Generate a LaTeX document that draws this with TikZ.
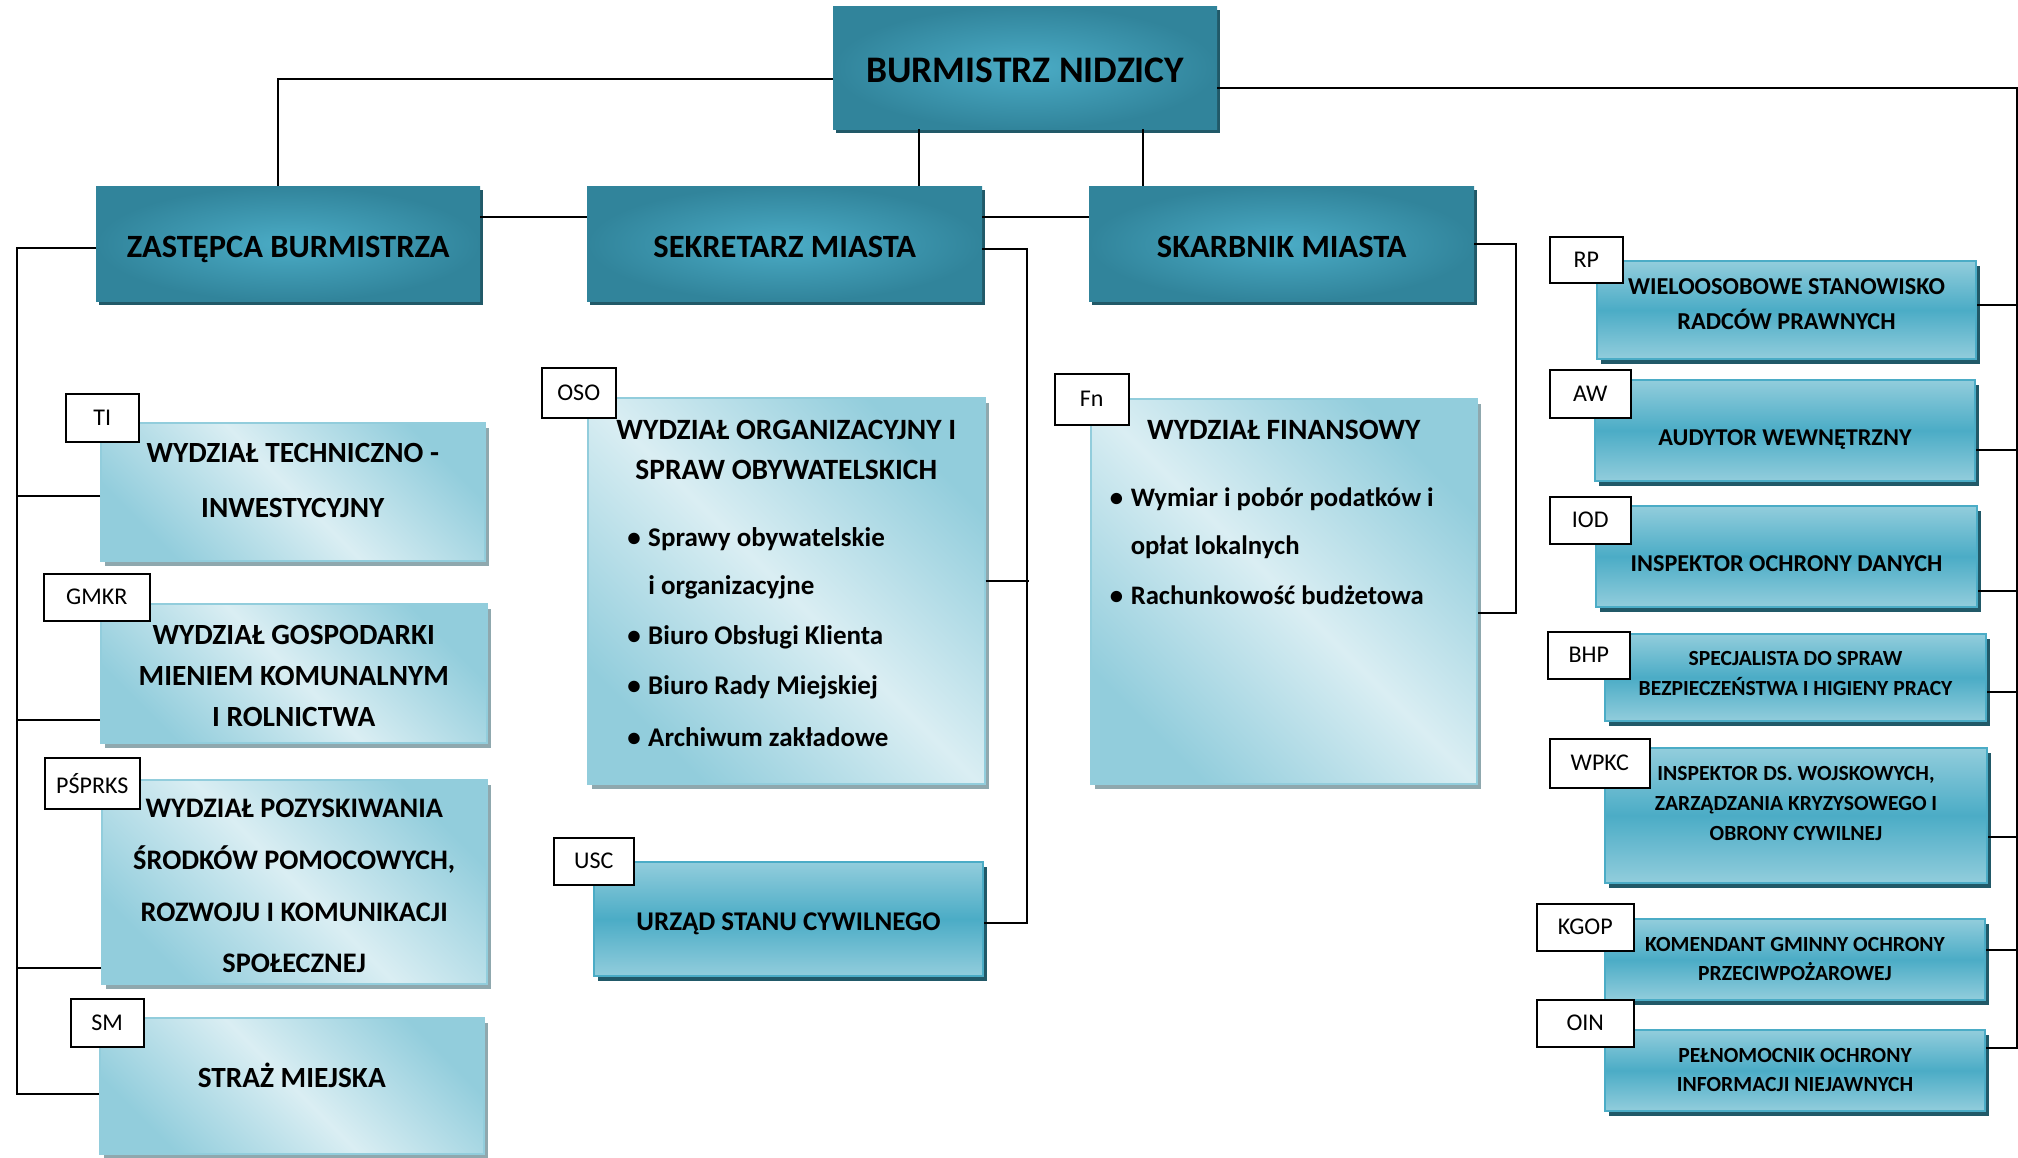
\documentclass[tikz,border=0pt]{standalone}
\usepackage{fontspec}
\setmainfont{Carlito}
\usetikzlibrary{shadows}

\definecolor{tealdark}{HTML}{31849B}
\definecolor{tealmid}{HTML}{4BACC6}
\definecolor{tealshadow}{HTML}{215968}
\definecolor{lightblue}{HTML}{92CDDC}
\definecolor{paleblue}{HTML}{DAEEF3}
\definecolor{grayshadow}{HTML}{8FA8AE}

% invisible struts: height of the first line, depth of the last line
\newcommand{\linetop}[1]{\rule{0pt}{#1}}
\newcommand{\linefoot}[1]{\rule[-#1]{0pt}{#1}}
% bullet of the lists
\newcommand{\listdot}{\makebox[17pt][l]{\hspace{-4pt}•}}

\tikzset{
  chief/.style={anchor=north west, inner color=tealmid, outer color=tealdark,
    drop shadow={shadow xshift=3pt,shadow yshift=-4pt,fill=tealshadow,opacity=1},
    font=\bfseries\fontsize{32.5}{37}\selectfont, align=center},
  dept/.style={anchor=north west, draw=lightblue, line width=1.5pt,
    left color=lightblue, right color=lightblue, middle color=paleblue, shading angle=135,
    drop shadow={shadow xshift=4pt,shadow yshift=-5pt,fill=grayshadow,opacity=1},
    font=\bfseries\fontsize{29.3}{41}\selectfont, align=center},
  post/.style={anchor=north west, draw=tealmid, line width=2pt,
    top color=lightblue, bottom color=lightblue, middle color=tealmid,
    drop shadow={shadow xshift=4pt,shadow yshift=-5pt,fill=tealshadow,opacity=1},
    font=\bfseries\fontsize{21.6}{29.6}\selectfont, align=center},
  tag/.style={anchor=north west, draw, fill=white, line width=1.5pt, inner sep=0pt,
    font=\fontsize{24}{28}\selectfont},
  link/.style={line width=2pt},
}

\begin{document}
\begin{tikzpicture}[x=1pt,y=-1pt]
\useasboundingbox (0,0) rectangle (2018,1157);

% top level
\node[chief, minimum width=384pt, minimum height=123pt, font=\bfseries\fontsize{37.5}{40}\selectfont] (boss) at (833,6) {\linetop{36pt}BURMISTRZ NIDZICY\linefoot{7pt}};
\node[chief, minimum width=384pt, minimum height=115pt] (zast) at (96,186) {\linetop{34pt}ZASTĘPCA BURMISTRZA\linefoot{7pt}};
\node[chief, minimum width=395pt, minimum height=115pt] (sek) at (587,186) {\linetop{34pt}SEKRETARZ MIASTA\linefoot{7pt}};
\node[chief, minimum width=385pt, minimum height=115pt] (skarb) at (1089,186) {\linetop{34pt}SKARBNIK MIASTA\linefoot{7pt}};

% departments under the deputy
\node[dept, minimum width=384pt, minimum height=138pt, font=\bfseries\fontsize{29.3}{55}\selectfont] (ti) at (100,422) {\linetop{30pt}WYDZIAŁ TECHNICZNO -\\INWESTYCYJNY\linefoot{33pt}};
\node[dept, minimum width=386pt, minimum height=139pt] (gmkr) at (100,603) {\linetop{30pt}WYDZIAŁ GOSPODARKI\\MIENIEM KOMUNALNYM\\I ROLNICTWA\linefoot{5pt}};
\node[dept, minimum width=385pt, minimum height=204pt, font=\bfseries\fontsize{28.3}{51.7}\selectfont] (psprks) at (101,779) {\linetop{33pt}WYDZIAŁ POZYSKIWANIA\\ŚRODKÓW POMOCOWYCH,\\ROZWOJU I KOMUNIKACJI\\SPOŁECZNEJ\linefoot{6pt}};
\node[dept, minimum width=384pt, minimum height=136pt] (sm) at (99,1017) {\linetop{30pt}STRAŻ MIEJSKA\linefoot{27pt}};

% secretary and treasurer
\node[dept, minimum width=397pt, minimum height=386pt] (oso) at (587,397) {};
\node[anchor=north, inner sep=0pt, align=center, font=\bfseries\fontsize{29.5}{40}\selectfont] (osotxt) at ([yshift=-22.5pt]oso.north)
  {WYDZIAŁ ORGANIZACYJNY I\\SPRAW OBYWATELSKICH\\[27pt]
   \makebox[310pt][l]{\fontsize{27}{40}\selectfont\listdot Sprawy obywatelskie}\\[8pt]
   \makebox[310pt][l]{\fontsize{27}{40}\selectfont\hspace{17pt}i organizacyjne}\\[10pt]
   \makebox[310pt][l]{\fontsize{27}{40}\selectfont\listdot Biuro Obsługi Klienta}\\[10pt]
   \makebox[310pt][l]{\fontsize{27}{40}\selectfont\listdot Biuro Rady Miejskiej}\\[12pt]
   \makebox[310pt][l]{\fontsize{27}{40}\selectfont\listdot Archiwum zakładowe}};
\node[post, minimum width=389pt, minimum height=114pt, font=\bfseries\fontsize{27}{35}\selectfont] (usc) at (593,861) {\linetop{30pt}URZĄD STANU CYWILNEGO\linefoot{8pt}};

\node[dept, minimum width=386pt, minimum height=385pt] (fn) at (1090,398) {};
\node[anchor=north, inner sep=0pt, align=center, font=\bfseries\fontsize{29.5}{48}\selectfont] (fntxt) at ([yshift=-21.5pt]fn.north)
  {WYDZIAŁ FINANSOWY\\[19pt]
   \makebox[340pt][l]{\fontsize{26.7}{48}\selectfont\listdot Wymiar i pobór podatków i}\\
   \makebox[340pt][l]{\fontsize{26.7}{48}\selectfont\hspace{17pt}opłat lokalnych}\\[2pt]
   \makebox[340pt][l]{\fontsize{26.7}{48}\selectfont\listdot Rachunkowość budżetowa}};

% posts reporting to the mayor
\node[post, minimum width=379pt, minimum height=98pt, font=\bfseries\fontsize{24.3}{35}\selectfont] (rp) at (1596,260) {\linetop{26pt}WIELOOSOBOWE STANOWISKO\\RADCÓW PRAWNYCH\linefoot{22pt}};
\node[post, minimum width=380pt, minimum height=101pt, font=\bfseries\fontsize{24.2}{35}\selectfont] (aw) at (1594,379) {\linetop{34pt}AUDYTOR WEWNĘTRZNY\linefoot{5pt}};
\node[post, minimum width=381pt, minimum height=101pt, font=\bfseries\fontsize{24.2}{35}\selectfont] (iod) at (1595,505) {\linetop{34pt}INSPEKTOR OCHRONY DANYCH\linefoot{5pt}};
\node[post, minimum width=381pt, minimum height=87pt] (bhp) at (1604,633) {\linetop{26pt}SPECJALISTA DO SPRAW\\BEZPIECZEŃSTWA I HIGIENY PRACY\linefoot{20pt}};
\node[post, minimum width=382pt, minimum height=135pt, font=\bfseries\fontsize{21.6}{30.3}\selectfont] (wpkc) at (1604,747) {\linetop{24pt}INSPEKTOR DS. WOJSKOWYCH,\\ZARZĄDZANIA KRYZYSOWEGO I\\OBRONY CYWILNEJ\linefoot{34pt}};
\node[post, minimum width=380pt, minimum height=81pt] (kgop) at (1604,918) {\linetop{26pt}KOMENDANT GMINNY OCHRONY\\PRZECIWPOŻAROWEJ\linefoot{13pt}};
\node[post, minimum width=380pt, minimum height=81pt] (oin) at (1604,1029) {\linetop{26pt}PEŁNOMOCNIK OCHRONY\\INFORMACJI NIEJAWNYCH\linefoot{13pt}};

% short names
\node[tag, minimum width=73pt, minimum height=48pt] (tagti) at (65,393) {TI};
\node[tag, minimum width=106pt, minimum height=47pt] (taggmkr) at (43,573) {GMKR};
\node[tag, minimum width=95pt, minimum height=51pt] (tagpsprks) at (44,757) {PŚPRKS};
\node[tag, minimum width=73pt, minimum height=48pt] (tagsm) at (70,998) {SM};
\node[tag, minimum width=74pt, minimum height=50pt] (tagoso) at (541,367) {OSO};
\node[tag, minimum width=80pt, minimum height=47pt] (tagusc) at (553,837) {USC};
\node[tag, minimum width=74pt, minimum height=51pt] (tagfn) at (1054,373) {Fn};
\node[tag, minimum width=73pt, minimum height=46pt] (tagrp) at (1549,236) {RP};
\node[tag, minimum width=81pt, minimum height=48pt] (tagaw) at (1549,369) {AW};
\node[tag, minimum width=81pt, minimum height=47pt] (tagiod) at (1549,496) {IOD};
\node[tag, minimum width=82pt, minimum height=47pt] (tagbhp) at (1547,631) {BHP};
\node[tag, minimum width=100pt, minimum height=49pt] (tagwpkc) at (1549,738) {WPKC};
\node[tag, minimum width=97pt, minimum height=47pt] (tagkgop) at (1536,903) {KGOP};
\node[tag, minimum width=97pt, minimum height=47pt] (tagoin) at (1536,999) {OIN};

% lines from the mayor
\draw[link] ([yshift=-11.5pt]boss.west) -| ([xshift=-10pt]zast.north);
\draw[link] ([xshift=-106pt]boss.south) -- ([xshift=-106pt]boss.south |- sek.north);
\draw[link] ([xshift=118pt]boss.south) -- ([xshift=118pt]boss.south |- skarb.north);
\draw[link] ([yshift=26.5pt]zast.east) -- ([yshift=26.5pt]zast.east -| sek.west);
\draw[link] ([yshift=26.5pt]sek.east) -- ([yshift=26.5pt]sek.east -| skarb.west);

% deputy
\draw[link] ([yshift=-4.5pt]zast.west) -| ([xshift=-82pt,yshift=-8pt]sm.west) -- ([yshift=-8pt]sm.west);
\draw[link] ([yshift=-4pt]ti.west) -- ++(-83pt,0);
\draw[link] ([yshift=-47pt]gmkr.west) -- ++(-83pt,0);
\draw[link] ([yshift=-86pt]psprks.west) -- ++(-84pt,0);

% secretary, treasurer
\draw[link] ([yshift=-5.5pt]sek.east) -- ++(45pt,0) |- ([yshift=-4pt]usc.east);
\draw[link] ([yshift=10pt]oso.east) -- ++(43pt,0);
\draw[link] (skarb.east) -- ++(42pt,0) |- ([yshift=-22pt]fn.east);

% right side
\draw[link] ([yshift=-20.5pt]boss.east) -| ([xshift=31pt,yshift=22.5pt]oin.east) -- ([yshift=22.5pt]oin.east);
\draw[link] ([yshift=5pt]rp.east) -- ++(40pt,0);
\draw[link] ([yshift=-19.5pt]aw.east) -- ++(41pt,0);
\draw[link] ([yshift=-34.5pt]iod.east) -- ++(39pt,0);
\draw[link] ([yshift=-14.5pt]bhp.east) -- ++(30pt,0);
\draw[link] ([yshift=-21.5pt]wpkc.east) -- ++(29pt,0);
\draw[link] ([yshift=9.5pt]kgop.east) -- ++(31pt,0);
\end{tikzpicture}
\end{document}
